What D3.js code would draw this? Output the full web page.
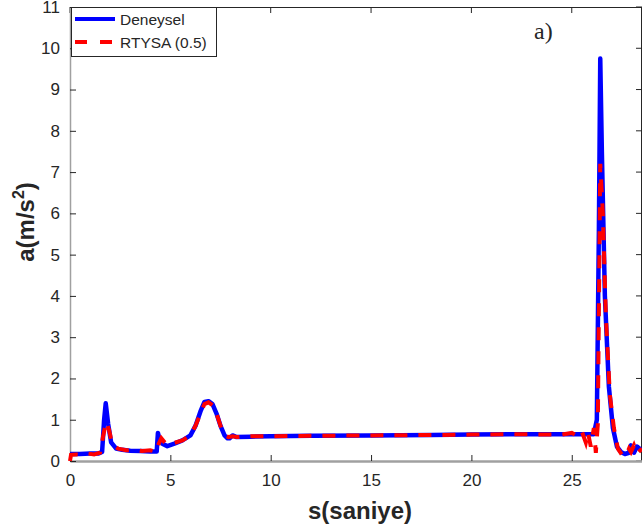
<!DOCTYPE html>
<html>
<head>
<meta charset="utf-8">
<script src="https://cdn.jsdelivr.net/npm/d3@7"></script>
<style>
  body { margin: 0; background: #fff; }
  text { font-family: "Liberation Sans", Arial, sans-serif; fill: #262626; }
</style>
</head>
<body>
<svg id="chart" width="642" height="528"></svg>
<script>
// Deneysel (measured) series
const timeDeneysel = [0, 0.5, 1.0, 1.4, 1.6, 1.7, 1.78, 1.9, 2.05, 2.3, 2.6, 3.0, 3.5, 4.0, 4.32, 4.38, 4.45, 4.6, 4.85, 5.2, 5.6, 6.0, 6.25, 6.5, 6.7, 6.9, 7.1, 7.3, 7.5, 7.7, 7.85, 7.95, 8.1, 8.3, 9, 10, 12, 15, 18, 20, 22, 25, 26.1, 26.25, 26.35, 26.42, 26.5, 26.65, 26.85, 27.05, 27.25, 27.45, 27.65, 27.85, 27.95, 28.1, 28.25, 28.5];
const valDeneysel = [0.17, 0.17, 0.18, 0.18, 0.22, 1.0, 1.4, 0.9, 0.45, 0.3, 0.27, 0.25, 0.24, 0.23, 0.23, 0.68, 0.55, 0.42, 0.36, 0.42, 0.5, 0.62, 0.85, 1.2, 1.43, 1.45, 1.38, 1.15, 0.85, 0.62, 0.55, 0.55, 0.62, 0.58, 0.59, 0.6, 0.61, 0.62, 0.63, 0.64, 0.65, 0.65, 0.65, 1.0, 5.5, 9.75, 7.5, 4.0, 1.8, 0.8, 0.35, 0.22, 0.17, 0.2, 0.38, 0.2, 0.35, 0.25];

// RTYSA (0.5) model series
const timeRtysa = [0, 0.05, 0.3, 0.6, 0.9, 1.2, 1.5, 1.65, 1.8, 1.95, 2.1, 2.4, 2.8, 3.2, 3.6, 4.0, 4.3, 4.42, 4.55, 4.8, 5.2, 5.6, 6.0, 6.25, 6.5, 6.7, 6.9, 7.1, 7.3, 7.5, 7.7, 7.9, 8.1, 8.3, 9, 10, 12, 15, 18, 20, 22, 24.5, 25.0, 25.3, 25.5, 25.7, 25.8, 25.95, 26.1, 26.2, 26.3, 26.42, 26.55, 26.7, 26.9, 27.1, 27.3, 27.5, 27.7, 27.85, 27.95, 28.1, 28.25, 28.5];
const valRtysa = [0.0, 0.15, 0.16, 0.15, 0.18, 0.16, 0.2, 0.6, 0.95, 0.75, 0.4, 0.3, 0.26, 0.27, 0.24, 0.26, 0.22, 0.42, 0.55, 0.4, 0.44, 0.5, 0.62, 0.85, 1.15, 1.38, 1.42, 1.35, 1.15, 0.85, 0.62, 0.58, 0.6, 0.58, 0.6, 0.6, 0.61, 0.62, 0.63, 0.64, 0.65, 0.64, 0.68, 0.6, 0.72, 0.45, 0.7, 0.35, 0.8, 0.2, 0.9, 7.2, 6.0, 3.5, 1.6, 0.8, 0.3, 0.15, 0.12, 0.3, 0.22, 0.38, 0.18, 0.3];

const xTicks = [0, 5, 10, 15, 20, 25];
const yTicks = [0, 1, 2, 3, 4, 5, 6, 7, 8, 9, 10, 11];
const seriesNames = ["Deneysel", "RTYSA (0.5)"];

const plotLeft = 70, plotRight = 642, plotTop = 7, plotBottom = 461;

const svg = d3.select("#chart");

const x = d3.scaleLinear().domain([0, 28.5]).range([plotLeft, plotRight]);
const y = d3.scaleLinear().domain([0, 11]).range([plotBottom, plotTop]);

// box (top and right edges)
svg.append("line").attr("x1", plotLeft).attr("x2", plotRight).attr("y1", plotTop + 0.5).attr("y2", plotTop + 0.5)
    .attr("stroke", "#262626").attr("stroke-width", 1);
svg.append("line").attr("x1", plotRight - 0.5).attr("x2", plotRight - 0.5).attr("y1", plotTop).attr("y2", plotBottom)
    .attr("stroke", "#262626").attr("stroke-width", 1);

// inward ticks on top and right
svg.append("g").selectAll("line").data(xTicks).join("line")
    .attr("x1", d => x(d)).attr("x2", d => x(d))
    .attr("y1", plotTop).attr("y2", plotTop + 6)
    .attr("stroke", "#262626");
svg.append("g").selectAll("line").data(yTicks).join("line")
    .attr("x1", plotRight - 6).attr("x2", plotRight)
    .attr("y1", d => y(d)).attr("y2", d => y(d))
    .attr("stroke", "#262626");

// bottom axis
const xAxis = svg.append("g")
    .attr("transform", `translate(0, ${plotBottom})`)
    .call(d3.axisBottom(x).tickValues(xTicks).tickSizeInner(-6).tickSizeOuter(0).tickPadding(13));
xAxis.select(".domain").attr("stroke", "#a0a0a0").attr("stroke-width", 2.5);
xAxis.selectAll(".tick line").attr("stroke", "#262626");
xAxis.selectAll("text").attr("font-size", 17).attr("font-family", "Liberation Sans, Arial, sans-serif").attr("fill", "#262626");

// left axis
const yAxis = svg.append("g")
    .attr("transform", `translate(${plotLeft}, 0)`)
    .call(d3.axisLeft(y).tickValues(yTicks).tickSizeInner(-6).tickSizeOuter(0).tickPadding(10));
yAxis.select(".domain").attr("stroke", "#a0a0a0").attr("stroke-width", 1.5);
yAxis.selectAll(".tick line").attr("stroke", "#262626");
yAxis.selectAll("text").attr("font-size", 17).attr("font-family", "Liberation Sans, Arial, sans-serif").attr("fill", "#262626");

// lines
const lineDen = d3.line().x((d, i) => x(timeDeneysel[i])).y(d => y(d));
const lineRt = d3.line().x((d, i) => x(timeRtysa[i])).y(d => y(d));

svg.append("path")
    .datum(valDeneysel)
    .attr("fill", "none")
    .attr("stroke", "#0000ff")
    .attr("stroke-width", 4.5)
    .attr("stroke-linejoin", "round")
    .attr("d", lineDen);

svg.append("path")
    .datum(valRtysa)
    .attr("fill", "none")
    .attr("stroke", "#ff0000")
    .attr("stroke-width", 4)
    .attr("stroke-dasharray", "13,11")
    .attr("d", lineRt);

// axis labels
svg.append("text")
    .attr("x", 360).attr("y", 519)
    .attr("text-anchor", "middle")
    .attr("font-size", 24).attr("font-weight", "bold")
    .text("s(saniye)");

const yl = svg.append("text")
    .attr("transform", "translate(34, 222) rotate(-90)")
    .attr("text-anchor", "middle")
    .attr("font-size", 24).attr("font-weight", "bold");
yl.append("tspan").text("a(m/s");
yl.append("tspan").attr("font-size", 16).attr("dy", -10).text("2");
yl.append("tspan").attr("dy", 10).text(")");

// panel label
svg.append("text")
    .attr("x", 534).attr("y", 39)
    .attr("font-size", 24)
    .style("font-family", "'Liberation Serif', serif")
    .text("a)");

// legend
const legend = svg.append("g");
legend.append("rect")
    .attr("x", 71.5).attr("y", 7.5).attr("width", 145).attr("height", 49)
    .attr("fill", "#fff").attr("stroke", "#262626").attr("stroke-width", 1);
const legendColors = ["#0000ff", "#ff0000"];
seriesNames.forEach((name, i) => {
    const ly = 19 + i * 23;
    legend.append("line")
        .attr("x1", 75).attr("x2", 115).attr("y1", ly).attr("y2", ly)
        .attr("stroke", legendColors[i]).attr("stroke-width", 4)
        .attr("stroke-dasharray", i === 0 ? null : "12,13");
    legend.append("text")
        .attr("x", 120).attr("y", ly + 6)
        .attr("font-size", 15.5)
        .text(name);
});
</script>
</body>
</html>
